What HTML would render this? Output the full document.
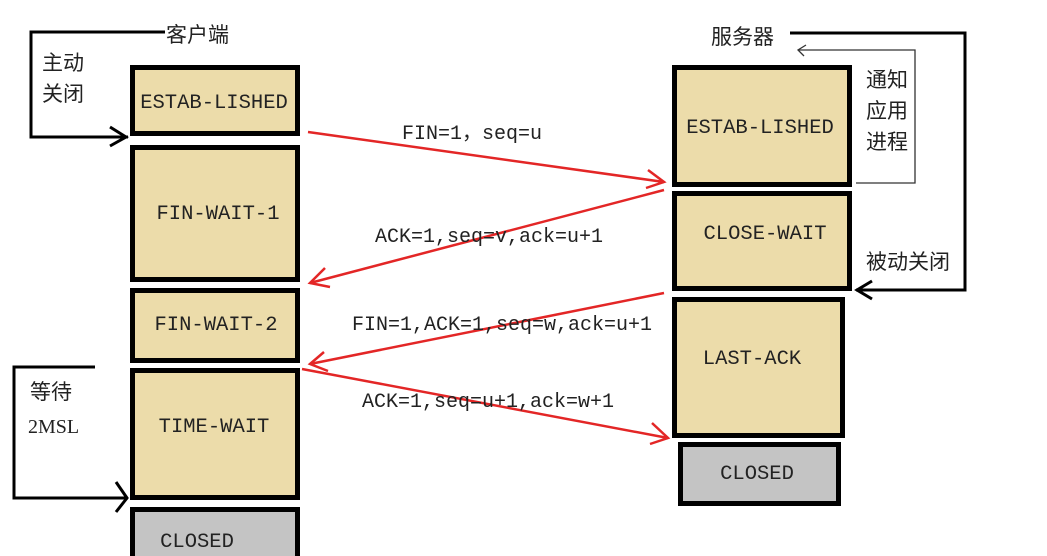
<!DOCTYPE html>
<html><head><meta charset="utf-8"><style>
html,body{margin:0;padding:0;background:#fff;width:1047px;height:556px;overflow:hidden}
svg{display:block}
.b{font-family:"Liberation Mono","Noto Serif CJK SC",monospace;font-size:20.5px;fill:#222}
.l{font-family:"Liberation Mono",monospace;font-size:20px;fill:#222}
.c{font-family:"Liberation Sans","Noto Sans CJK SC",sans-serif;font-size:21px;fill:#222}
</style></head><body>
<svg width="1047" height="556" viewBox="0 0 1047 556">
<g stroke="#000" stroke-width="5">
<rect x="132.5" y="67.5" width="165" height="66" fill="#ecdcaa"/>
<rect x="132.5" y="147.5" width="165" height="132" fill="#ecdcaa"/>
<rect x="132.5" y="290.5" width="165" height="70" fill="#ecdcaa"/>
<rect x="132.5" y="370.5" width="165" height="127" fill="#ecdcaa"/>
<rect x="132.5" y="509.5" width="165" height="60" fill="#c4c4c4"/>
<rect x="674.5" y="67.5" width="175" height="117" fill="#ecdcaa"/>
<rect x="674.5" y="193.5" width="175" height="95" fill="#ecdcaa"/>
<rect x="674.5" y="299.5" width="168" height="136" fill="#ecdcaa"/>
<rect x="680.5" y="444.5" width="158" height="59" fill="#c4c4c4"/>
</g>
<text class="b" x="214" y="108" text-anchor="middle">ESTAB-LISHED</text>
<text class="b" x="218" y="219" text-anchor="middle">FIN-WAIT-1</text>
<text class="b" x="216" y="330" text-anchor="middle">FIN-WAIT-2</text>
<text class="b" x="214" y="432" text-anchor="middle">TIME-WAIT</text>
<text class="b" x="197" y="547" text-anchor="middle">CLOSED</text>
<text class="b" x="760" y="133" text-anchor="middle">ESTAB-LISHED</text>
<text class="b" x="765" y="239" text-anchor="middle">CLOSE-WAIT</text>
<text class="b" x="752" y="364" text-anchor="middle">LAST-ACK</text>
<text class="b" x="757" y="479" text-anchor="middle">CLOSED</text>
<g fill="none" stroke="#000" stroke-width="3">
<polyline points="165,32 31,32 31,137 128,137"/>
<polyline points="110,127 126,137 110,146"/>
<polyline points="95,367 14,367 14,498 128,498"/>
<polyline points="116,482 127,498 116,512"/>
<polyline points="790,33 965,33 965,290 856,290"/>
<polyline points="872,281 857,290 872,299"/>
</g>
<g fill="none" stroke="#333" stroke-width="1.3">
<polyline points="856,183 915,183 915,50 798,50"/>
<polyline points="806,45 798,50 804,56"/>
</g>
<text class="c" x="166" y="42">客户端</text>
<text class="c" x="42" y="70">主动</text>
<text class="c" x="42" y="101">关闭</text>
<text class="c" x="30" y="399">等待</text>
<text class="c" x="28" y="433" style="font-family:'Liberation Serif',serif;font-size:20px">2MSL</text>
<text class="c" x="711" y="44">服务器</text>
<text class="c" x="866" y="87">通知</text>
<text class="c" x="866" y="118">应用</text>
<text class="c" x="866" y="149">进程</text>
<text class="c" x="866" y="269">被动关闭</text>
<g stroke="#e32626" stroke-width="2.5" fill="none">
<line x1="308" y1="132" x2="664" y2="182"/>
<polyline points="648,170 664,182 646,188"/>
<line x1="664" y1="190" x2="310" y2="283"/>
<polyline points="325,268 310,283 330,287"/>
<line x1="664" y1="293" x2="310" y2="364"/>
<polyline points="324,352 310,364 328,371"/>
<line x1="302" y1="369" x2="668" y2="438"/>
<polyline points="652,423 668,438 650,444"/>
</g>
<text class="l" x="402" y="139">FIN=1，seq=u</text>
<text class="l" x="375" y="242">ACK=1,seq=v,ack=u+1</text>
<text class="l" x="352" y="330">FIN=1,ACK=1,seq=w,ack=u+1</text>
<text class="l" x="362" y="407">ACK=1,seq=u+1,ack=w+1</text>
</svg>
</body></html>
